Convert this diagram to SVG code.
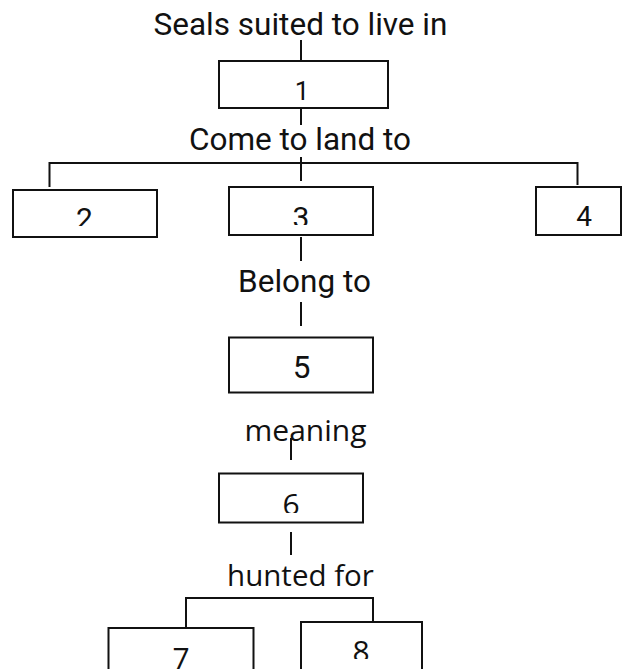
<svg xmlns="http://www.w3.org/2000/svg" width="622" height="669" viewBox="0 0 622 669">
  <style>
    .box { fill: #fff; stroke: #111; stroke-width: 2; }
    .wire { fill: none; stroke: #111; stroke-width: 2; }
    .lbl { font-family: Roboto, "Liberation Sans", sans-serif; fill: #111; text-anchor: middle; }
    .lbl2 { font-family: "Open Sans", "Noto Sans", sans-serif; fill: #111; text-anchor: middle; }
  </style>
  <defs>
    <!-- the number labels sit low in some boxes and are cut off at these lines -->
    <clipPath id="cut2"><rect x="0" y="180" width="200" height="46"/></clipPath>
    <clipPath id="cut3"><rect x="220" y="180" width="160" height="45"/></clipPath>
    <clipPath id="cut6"><rect x="210" y="470" width="160" height="43"/></clipPath>
    <clipPath id="cut8"><rect x="295" y="615" width="130" height="44"/></clipPath>
  </defs>

  <g id="connectors">
    <line class="wire" x1="301" y1="40" x2="301" y2="63"/>
    <line class="wire" x1="301" y1="103" x2="301" y2="125"/>
    <line class="wire" x1="301" y1="157" x2="301" y2="181"/>
    <polyline class="wire" points="49.5,187 49.5,163 577.5,163 577.5,185"/>
    <line class="wire" x1="301" y1="237" x2="301" y2="261"/>
    <line class="wire" x1="301" y1="302" x2="301" y2="326"/>
    <line class="wire" x1="291" y1="438" x2="291" y2="460"/>
    <line class="wire" x1="291" y1="532" x2="291" y2="555"/>
    <polyline class="wire" points="186,627 186,598 373,598 373,622"/>
  </g>

  <g id="labels">
    <text class="lbl" x="300.5" y="35" font-size="31.5">Seals suited to live in</text>
    <text class="lbl" x="300" y="149.5" font-size="31.5">Come to land to</text>
    <text class="lbl" x="304.5" y="292" font-size="31.5">Belong to</text>
    <text class="lbl2" x="305.5" y="440.5" font-size="30">meaning</text>
    <text class="lbl2" x="300.5" y="586" font-size="29.5">hunted for</text>
  </g>

  <g id="node1">
    <rect class="box" x="219" y="61" width="169" height="47"/>
    <text class="lbl" x="302" y="99.5" font-size="26">1</text>
  </g>
  <g id="node2">
    <rect class="box" x="13" y="190" width="144" height="47"/>
    <text class="lbl" x="84.5" y="229" font-size="30" clip-path="url(#cut2)">2</text>
  </g>
  <g id="node3">
    <rect class="box" x="229" y="187" width="144" height="48"/>
    <text class="lbl" x="301" y="227.5" font-size="30" clip-path="url(#cut3)">3</text>
  </g>
  <g id="node4">
    <rect class="box" x="536" y="187" width="85" height="48"/>
    <text class="lbl" x="584" y="226" font-size="28">4</text>
  </g>
  <g id="node5">
    <rect class="box" x="229" y="337.5" width="144" height="55"/>
    <text class="lbl" x="301.5" y="378" font-size="31.5">5</text>
  </g>
  <g id="node6">
    <rect class="box" x="219" y="473.5" width="144" height="49"/>
    <text class="lbl2" x="291" y="514.5" font-size="30" clip-path="url(#cut6)">6</text>
  </g>
  <g id="node7">
    <rect class="box" x="108.5" y="628" width="145" height="60"/>
    <text class="lbl2" x="181" y="669" font-size="30">7</text>
  </g>
  <g id="node8">
    <rect class="box" x="301" y="622" width="121" height="66"/>
    <text class="lbl2" x="361" y="662" font-size="30" clip-path="url(#cut8)">8</text>
  </g>
</svg>
